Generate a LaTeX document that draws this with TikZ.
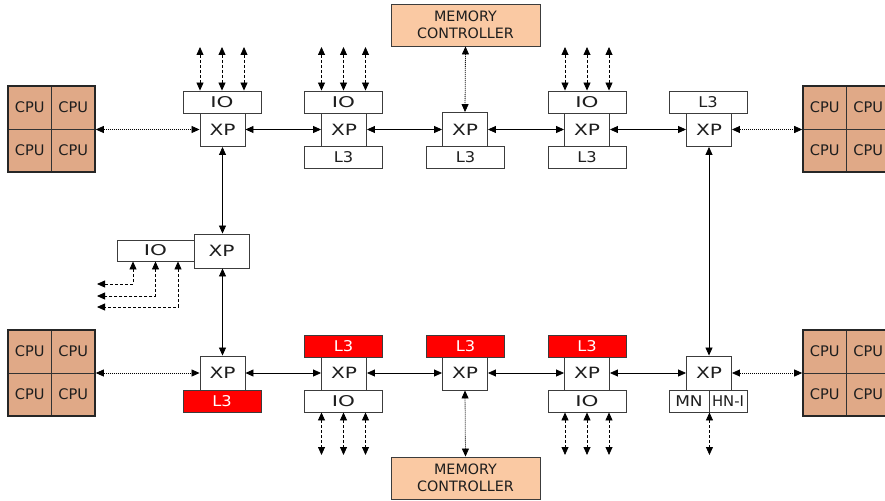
\documentclass[tikz,border=0pt]{standalone}
\usepackage{graphicx}
\usepackage{fontspec}
\setmainfont{DejaVu Sans}
\usetikzlibrary{arrows.meta}
\definecolor{cpufill}{RGB}{224,169,135}
\definecolor{mcfill}{RGB}{250,201,163}
\definecolor{boxline}{RGB}{60,60,60}
\definecolor{txt}{RGB}{30,30,30}
\newcommand{\wideXP}{\scalebox{1.3}[1]{XP}}
\newcommand{\wideIO}{\scalebox{1.45}[1]{IO}}
\newcommand{\wideLT}{\scalebox{1.1}[1]{L3}}
\begin{document}
\begin{tikzpicture}[x=1pt,y=-1pt,
  box/.style={draw=boxline, line width=0.9pt, fill=white, inner sep=0pt, minimum width=78pt, minimum height=22pt, text=txt, font=\fontsize{14.8}{16}\selectfont},
  xpbox/.style={box, minimum width=45pt, minimum height=34pt, font=\fontsize{15.5}{16}\selectfont},
  redbox/.style={box, fill=red, text=white},
  cpucell/.style={draw=black!80, line width=0.8pt, fill=cpufill, minimum width=43.5pt, minimum height=43pt, inner sep=0pt, text=txt, font=\fontsize{14.6}{16}\selectfont},
  cpuframe/.style={draw=black!85, line width=1.6pt, minimum width=87pt, minimum height=86pt, inner sep=0pt},
  mcbox/.style={box, fill=mcfill, minimum width=149pt, minimum height=42pt, align=center, font=\fontsize{14.3}{17}\selectfont},
  tip/.tip={Triangle[length=8pt,width=7pt]},
  arr/.style={tip-tip, line width=0.8pt, black},
  dotarr/.style={arr, dash pattern=on 1pt off 1pt},
  dasharr/.style={arr, dash pattern=on 3pt off 2pt}
]
\clip (0,0) rectangle (885,500);
\fill[white] (0,0) rectangle (885,500);

% CPU clusters
\foreach \n/\cx/\cy in {cpuTL/51.5/129, cpuTR/846.5/129, cpuBL/51.5/373, cpuBR/846.5/373}{
  \node[cpucell] (\n-a) at (\cx-21.75,\cy-21.5) {CPU};
  \node[cpucell] (\n-b) at (\cx+21.75,\cy-21.5) {CPU};
  \node[cpucell] (\n-c) at (\cx-21.75,\cy+21.5) {CPU};
  \node[cpucell] (\n-d) at (\cx+21.75,\cy+21.5) {CPU};
  \node[cpuframe] (\n) at (\cx,\cy) {};
}

% top row
\node[xpbox] (xpA) at (222.5,129.5) {\wideXP};
\node[xpbox] (xpB) at (344,129.5) {\wideXP};
\node[xpbox] (xpC) at (465,129.5) {\wideXP};
\node[xpbox] (xpD) at (587,129.5) {\wideXP};
\node[xpbox] (xpE) at (709,129.5) {\wideXP};
\node[box] (ioA) at (222,102) {\wideIO};
\node[box] (ioB) at (343.5,102) {\wideIO};
\node[box] (l3B) at (343.5,157) {\wideLT};
\node[box] (l3C) at (465.5,157) {\wideLT};
\node[box] (ioD) at (587,102) {\wideIO};
\node[box] (l3D) at (587,157) {\wideLT};
\node[box] (l3E) at (708,102) {\wideLT};
\node[mcbox] (mcT) at (465.5,25) {MEMORY\\CONTROLLER};

% middle
\node[xpbox, minimum width=55pt] (xpM) at (221.5,251) {\wideXP};
\node[box, minimum width=77pt, minimum height=21pt] (ioM) at (155.5,250.5) {\wideIO};

% bottom row
\node[xpbox] (xpF) at (222.5,373) {\wideXP};
\node[xpbox] (xpG) at (344,373) {\wideXP};
\node[xpbox] (xpH) at (465,373) {\wideXP};
\node[xpbox] (xpI) at (587,373) {\wideXP};
\node[xpbox] (xpJ) at (709,373) {\wideXP};
\node[redbox] (l3F) at (222,401) {\wideLT};
\node[redbox] (l3G) at (343.5,346) {\wideLT};
\node[box] (ioG) at (343.5,401) {\wideIO};
\node[redbox] (l3H) at (465.5,346) {\wideLT};
\node[redbox] (l3I) at (587,346) {\wideLT};
\node[box] (ioI) at (587,401) {\wideIO};
\node[box, minimum width=40pt] (mnJ) at (689,401) {\scalebox{1.15}[1]{MN}};
\node[box, minimum width=38pt] (hnJ) at (728,401) {HN-I};
\node[mcbox] (mcB) at (465.5,478) {MEMORY\\CONTROLLER};

% horizontal links
\draw[dotarr] (cpuTL.east |- xpA.west) -- (xpA.west);
\draw[arr] (xpA) -- (xpB);
\draw[arr] (xpB) -- (xpC);
\draw[arr] (xpC) -- (xpD);
\draw[arr] (xpD) -- (xpE);
\draw[dotarr] (xpE.east) -- (cpuTR.west |- xpE.east);
\draw[dotarr] (cpuBL.east |- xpF.west) -- (xpF.west);
\draw[arr] (xpF) -- (xpG);
\draw[arr] (xpG) -- (xpH);
\draw[arr] (xpH) -- (xpI);
\draw[arr] (xpI) -- (xpJ);
\draw[dotarr] (xpJ.east) -- (cpuBR.west |- xpJ.east);

% vertical links
\draw[arr] (xpA.south) -- (xpA.south |- xpM.north);
\draw[arr] (xpA.south |- xpM.south) -- (xpF.north);
\draw[arr] (xpE.south) -- (xpJ.north);
\draw[dotarr] (mcT.south) -- (xpC.north);
\draw[dotarr] (xpH.south) -- (mcB.north);

% top IO ports
\foreach \b in {A,B,D}{
  \foreach \s/\k in {-22/1,0/2,22/3}{
    \coordinate (t\b\k) at ([xshift=\s pt]io\b.north |- 0,47);
    \draw[dasharr] (t\b\k) -- (t\b\k |- io\b.north);
  }
}
% bottom IO ports
\foreach \b in {G,I}{
  \foreach \s/\k in {-22/1,0/2,22/3}{
    \coordinate (b\b\k) at ([xshift=\s pt]io\b.south |- 0,455);
    \draw[dasharr] (b\b\k |- io\b.south) -- (b\b\k);
  }
}
\coordinate (bJ) at (mnJ.south east |- 0,455);
\draw[dasharr] (mnJ.south east) -- (bJ);

% middle IO ports
\coordinate (m1) at (97,284);
\coordinate (m2) at (97,296);
\coordinate (m3) at (97,307);
\draw[dasharr] ([xshift=-22.5pt]ioM.south) |- (m1);
\draw[dasharr] (ioM.south) |- (m2);
\draw[dasharr] ([xshift=22.5pt]ioM.south) |- (m3);
\end{tikzpicture}
\end{document}
